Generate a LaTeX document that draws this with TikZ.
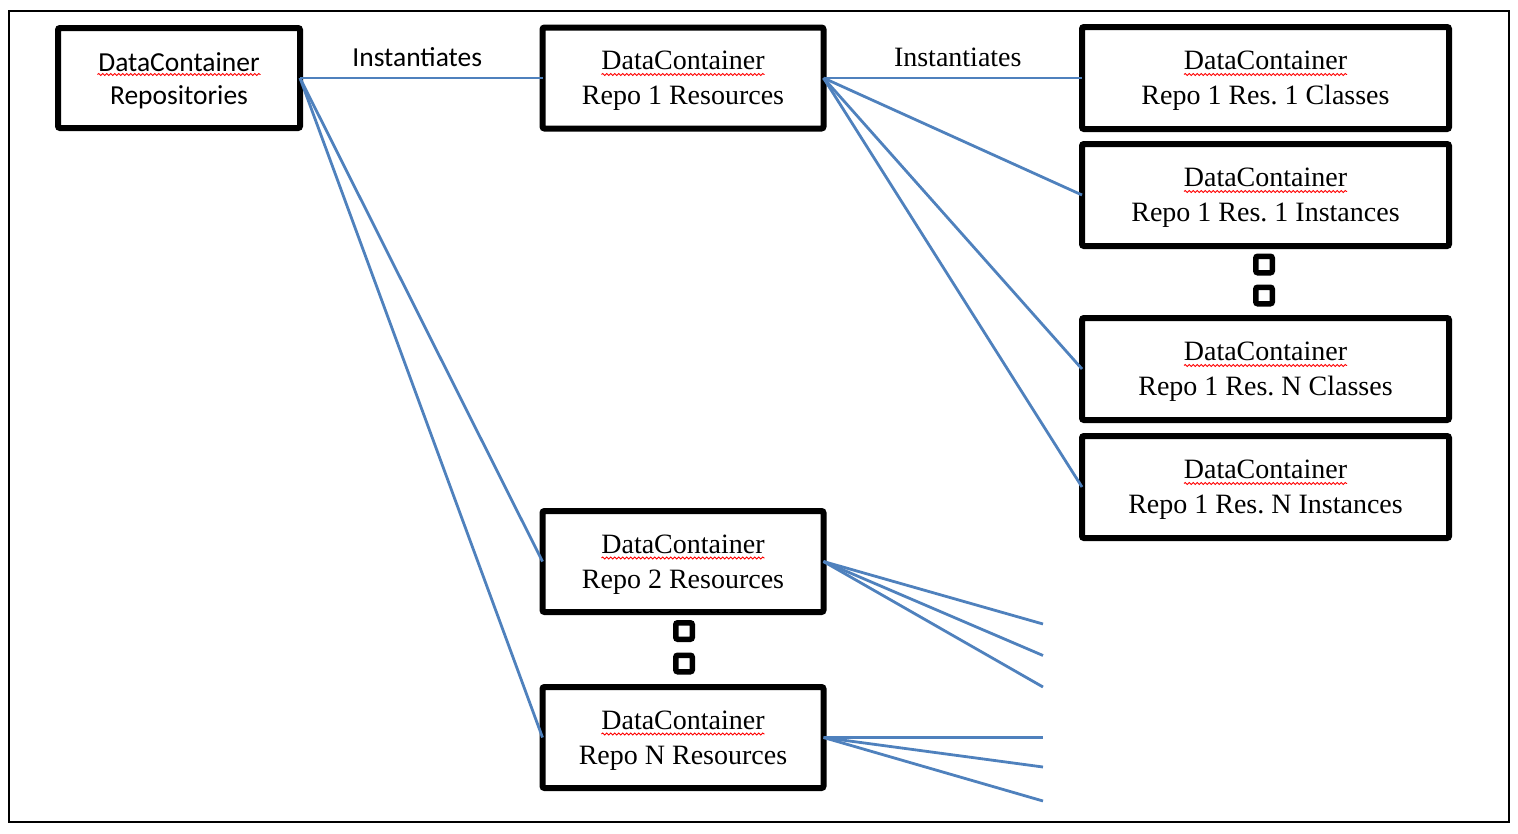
\documentclass[tikz,border=0pt]{standalone}
\usepackage{fontspec}
\setmainfont{Liberation Serif}
\newfontfamily\calibri{Carlito}
\usetikzlibrary{calc}
\usetikzlibrary{decorations.pathmorphing}
\definecolor{linkblue}{RGB}{79,129,189}
\frenchspacing
\newcommand\dcname{\rule{0pt}{24pt}DataContainer}

\begin{document}
\begin{tikzpicture}[x=1pt, y=-1pt,
        box_style/.style={rectangle,draw=black,line width=6pt,rounded corners=2pt,inner sep=0pt,outer sep=0pt,align=center,font=\fontsize{28}{35}\selectfont},
        sans_box_style/.style={box_style,font=\calibri\fontsize{27.5}{33}\selectfont},
        repo_style/.style={box_style,minimum width=281pt,minimum height=101pt},
        res_style/.style={box_style,minimum width=367pt,minimum height=102pt},
        dot_style/.style={rectangle,draw=black,line width=5.5pt,rounded corners=2pt,minimum size=16.5pt,inner sep=0pt},
        edge_style/.style={draw=linkblue, line width=2.8pt},
        label_style/.style={above=10pt,inner sep=0pt,text=black},
        wave_style/.style={draw=red, line width=0.9pt, decorate, decoration={snake, amplitude=1pt, segment length=4pt}}]

        \useasboundingbox (0,0) rectangle (1518,833);
        \draw [line width=2pt] (8.5,11) rectangle (1509,822);

        \node [sans_box_style,minimum width=242pt,minimum height=100pt,yshift=0pt](n1) at (179,78) {\dcname\\Repositories};

        \node [repo_style](n2) at (683,78) {\dcname\\Repo 1 Resources};

        \node [repo_style](n3) at (683,561.5) {\dcname\\Repo 2 Resources};

        \node [repo_style](n4) at (683,737.5) {\dcname\\Repo N Resources};

        \node [res_style](n5) at (1265.5,78) {\dcname\\Repo 1 Res. 1 Classes};

        \node [res_style](n6) at (1265.5,195) {\dcname\\Repo 1 Res. 1 Instances};

        \node [res_style](n7) at (1265.5,369) {\dcname\\Repo 1 Res. N Classes};

        \node [res_style](n8) at (1265.5,487) {\dcname\\Repo 1 Res. N Instances};

        % spell-check squiggles under DataContainer
        \foreach \n in {n1,n2,n3,n4,n5,n6,n7,n8}
            \draw [wave_style] ($(\n.center)+(-81.5,-3.5)$) -- ++(163,0);

        \node [dot_style](d1) at (1264,264.5) {};
        \node [dot_style](d2) at (1264,295.5) {};
        \node [dot_style](d3) at (684,631) {};
        \node [dot_style](d4) at (684,663.5) {};

        \coordinate (e1) at (1043,624);
        \coordinate (e2) at (1043,655.5);
        \coordinate (e3) at (1043,687);
        \coordinate (e4) at (1043,737.5);
        \coordinate (e5) at (1043,767);
        \coordinate (e6) at (1043,801);

        \draw [edge_style] (n1.east) edge node[label_style,xshift=-4pt,font=\calibri\fontsize{27.5}{33}\selectfont]{Instantiates} (n2.west);

        \draw [edge_style] (n1.east) edge (n3.west);

        \draw [edge_style] (n1.east) edge (n4.west);

        \draw [edge_style] (n2.east) edge node[label_style,xshift=5pt,font=\fontsize{28}{35}\selectfont]{Instantiates} (n5.west);

        \draw [edge_style] (n2.east) edge (n6.west);

        \draw [edge_style] (n2.east) edge (n7.west);

        \draw [edge_style] (n2.east) edge (n8.west);

        \draw [edge_style] (n3.east) edge (e1);

        \draw [edge_style] (n3.east) edge (e2);

        \draw [edge_style] (n3.east) edge (e3);

        \draw [edge_style] (n4.east) edge (e4);

        \draw [edge_style] (n4.east) edge (e5);

        \draw [edge_style] (n4.east) edge (e6);

        \end{tikzpicture}
\end{document}
